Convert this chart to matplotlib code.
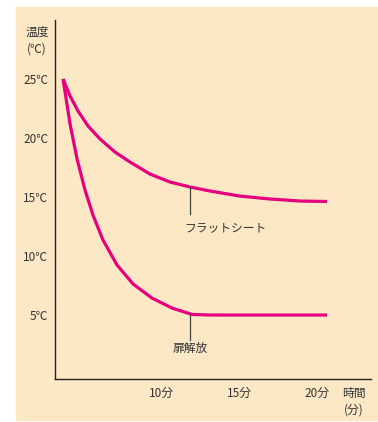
import matplotlib.pyplot as plt
from matplotlib.patches import Rectangle

plt.rcParams['font.family'] = ['Noto Sans CJK JP', 'DejaVu Sans']

# Data (time in minutes, temperature in C)
flat_t = [3.72, 4.17, 4.68, 5.32, 6.09, 7.05, 8.01, 9.29, 10.58, 11.86, 13.14, 15.06, 17.0, 18.91, 20.64]
flat_T = [25.0, 23.56, 22.29, 21.02, 19.92, 18.81, 17.97, 16.95, 16.27, 15.85, 15.51, 15.08, 14.83, 14.66, 14.62]

door_t = [3.72, 4.17, 4.62, 5.13, 5.64, 6.28, 7.18, 8.21, 9.42, 10.71, 11.99, 13.14, 20.64]
door_T = [25.0, 21.19, 18.22, 15.59, 13.47, 11.36, 9.24, 7.63, 6.44, 5.59, 5.05, 5.0, 5.0]

x_ticks = [10, 15, 20]
x_labels = ['10分', '15分', '20分']
y_ticks = [5, 10, 15, 20, 25]
y_labels = ['5℃', '10℃', '15℃', '20℃', '25℃']

BG = '#FDE8C6'
PINK = '#E6007E'
TXT = '#333333'

fig = plt.figure(figsize=(3.78, 4.22), dpi=100)
fig.patches.append(Rectangle((16 / 378, 2 / 422), 362 / 378, 413 / 422,
                             transform=fig.transFigure, color=BG, zorder=-10))

ax = fig.add_axes([55 / 378, 43 / 422, 316 / 378, 359 / 422])
ax.set_zorder(1)
ax.set_facecolor('none')
ax.plot(flat_t, flat_T, color=PINK, lw=2.3, solid_capstyle='butt', solid_joinstyle='round')
ax.plot(door_t, door_T, color=PINK, lw=2.3, solid_capstyle='butt', solid_joinstyle='round')

ax.set_xlim(3.205, 23.46)
ax.set_ylim(-0.42, 30.0)
for s in ['top', 'right']:
    ax.spines[s].set_visible(False)
for s in ['left', 'bottom']:
    ax.spines[s].set_color('#222222')
    ax.spines[s].set_linewidth(1.0)

ax.set_xticks(x_ticks)
ax.set_xticklabels(x_labels)
ax.set_yticks(y_ticks)
ax.set_yticklabels(y_labels)
ax.tick_params(length=0, labelsize=8.5, labelcolor=TXT)
ax.tick_params(axis='y', pad=5)
ax.tick_params(axis='x', pad=6)

# annotations
ax.plot([11.86, 11.86], [15.85, 13.6], color='#444444', lw=0.9)
ax.text(11.5, 12.4, 'フラットシート', fontsize=8.5, color=TXT, ha='left', va='center')
ax.plot([11.86, 11.86], [5.0, 2.9], color='#444444', lw=0.9)
ax.text(11.86, 2.2, '扉解放', fontsize=8.5, color=TXT, ha='center', va='center')

# axis titles
fig.text(37 / 378, 1 - 32 / 422, '温度', fontsize=8.5, color=TXT, ha='center', va='center')
fig.text(37 / 378, 1 - 49 / 422, '(℃)', fontsize=8.5, color=TXT, ha='center', va='center')
fig.text(354 / 378, 1 - 393 / 422, '時間', fontsize=8.5, color=TXT, ha='center', va='center')
fig.text(354 / 378, 1 - 410 / 422, '(分)', fontsize=8.5, color=TXT, ha='center', va='center')

fig.savefig('out.png', dpi=100)
